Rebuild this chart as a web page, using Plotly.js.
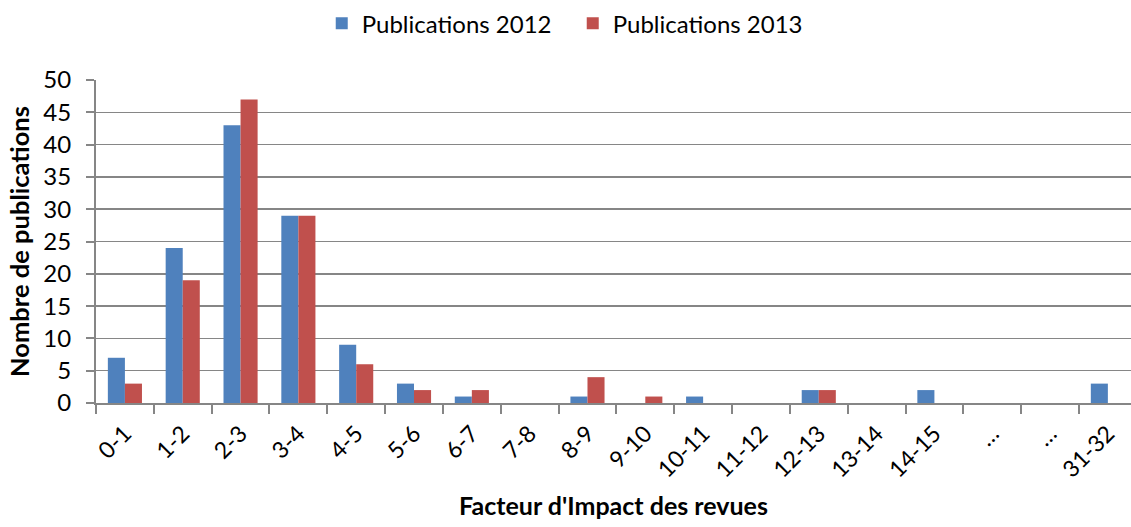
<!DOCTYPE html>
<html><head><meta charset="utf-8">
<script src="https://cdn.plot.ly/plotly-3.0.1.min.js"></script>
<style>body{margin:0;}#chart{width:1131px;height:527px;}</style>
</head><body><div id="chart"></div>
<script>
const categories = ["0-1","1-2","2-3","3-4","4-5","5-6","6-7","7-8","8-9","9-10","10-11","11-12","12-13","13-14","14-15","…","…","31-32"];
const pub2012 = [7,24,43,29,9,3,1,0,1,0,1,0,2,0,2,0,0,3];
const pub2013 = [3,19,47,29,6,2,2,0,4,1,0,0,2,0,0,0,0,0];
const idx = categories.map((c,i)=>i);
const font = "Lato, 'Open Sans', sans-serif";
const data = [
  {type:'bar', name:'Publications 2012', x:idx, y:pub2012, marker:{color:'#4F81BD', line:{width:0}}},
  {type:'bar', name:'Publications 2013', x:idx, y:pub2013, marker:{color:'#C0504D', line:{width:0}}}
];
const layout = {
  width:1131, height:527,
  margin:{l:96, r:0, t:80, b:124},
  paper_bgcolor:'#fff', plot_bgcolor:'#fff',
  font:{family:font, color:'#000', size:22},
  barmode:'group', bargap:0.41, bargroupgap:0,
  showlegend:true,
  legend:{orientation:'h', x:0.5064, xanchor:'center', xref:'container', y:0.955, yanchor:'middle', yref:'container',
          font:{size:24}, itemwidth:30, entrywidth:206, entrywidthmode:'pixels', tracegroupgap:0},
  xaxis:{
    range:[-0.5, 17.4], tickmode:'array', tickvals:idx, ticktext:categories,
    tickangle:-45, ticks:'', showgrid:false, zeroline:false,
    showline:true, linecolor:'#868686', linewidth:2,
    minor:{ticks:'outside', tick0:-0.5, dtick:1, ticklen:9, tickcolor:'#868686', tickwidth:2, showgrid:false},
    tickfont:{size:23}, ticklabelstandoff:6,
    title:{text:"<b>Facteur d'Impact des revues</b>", font:{size:25}, standoff:16}
  },
  yaxis:{
    range:[0,50], dtick:5, tick0:0,
    showgrid:true, gridcolor:'#868686', gridwidth:1.5,
    zeroline:false, showline:true, linecolor:'#868686', linewidth:2,
    ticks:'outside', ticklen:8, tickcolor:'#868686', tickwidth:2,
    tickfont:{size:24}, ticklabelstandoff:10,
    title:{text:'<b>Nombre de publications</b>', font:{size:25.5}, standoff:6}
  }
};
Plotly.newPlot('chart', data, layout, {staticPlot:true, displayModeBar:false});
</script></body></html>
